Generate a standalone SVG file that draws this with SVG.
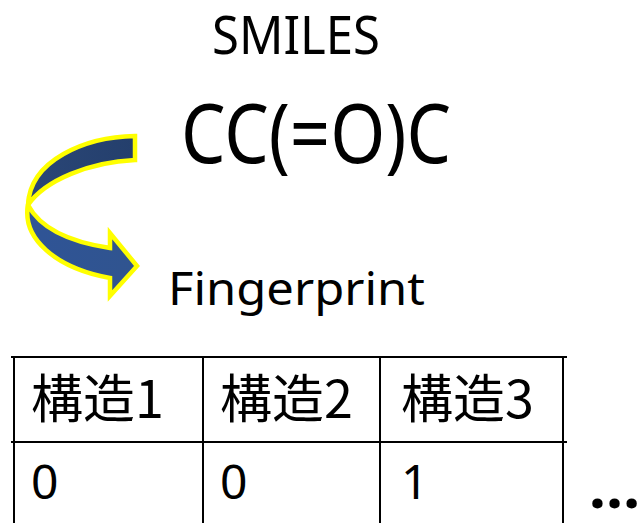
<svg xmlns="http://www.w3.org/2000/svg" width="640" height="523" viewBox="0 0 640 523">
  <style>
    .lat { font-family: "Noto Sans", "Liberation Sans", sans-serif; fill: #000; }
    .cjk { font-family: "Noto Sans CJK JP", "Noto Sans", sans-serif; fill: #000; font-size: 52px; }
    .num { font-family: "Noto Sans", "Liberation Sans", sans-serif; fill: #000; font-size: 48px; }
    .grid { stroke: #000; stroke-width: 2; fill: none; }
    .band { stroke: #FFFF00; stroke-width: 4.5; stroke-linejoin: miter; }
  </style>
  <defs>
    <linearGradient id="gTop" x1="0" y1="0" x2="1" y2="0">
      <stop offset="0" stop-color="#2A4677"/>
      <stop offset="1" stop-color="#243F6C"/>
    </linearGradient>
    <linearGradient id="gBot" x1="0" y1="0" x2="1" y2="0">
      <stop offset="0" stop-color="#2F5496"/>
      <stop offset="1" stop-color="#30548F"/>
    </linearGradient>
  </defs>
  <rect width="640" height="523" fill="#fff"/>

  <g id="smiles-label">
    <text class="lat" x="212" y="54" font-size="52" textLength="168" lengthAdjust="spacingAndGlyphs">SMILES</text>
  </g>
  <g id="smiles-value">
    <text class="lat" x="181" y="163" font-size="82" textLength="270" lengthAdjust="spacingAndGlyphs">CC(=O)C</text>
  </g>
  <g id="fingerprint-label">
    <text class="lat" x="168" y="305" font-size="46" textLength="257" lengthAdjust="spacingAndGlyphs">Fingerprint</text>
  </g>

  <g id="curved-arrow">
    <path class="band" fill="url(#gTop)" d="M135,136 C85,137 30,160 28,205 C45,180 90,162 135,160 Z"/>
    <path class="band" fill="url(#gBot)" d="M28,205 C22,238 55,268 110,278 L110,296 L137,266 L110,233 L110,248 C70,242 40,228 28,205 Z"/>
  </g>

  <g id="connectors">
  </g>

  <g id="fingerprint-table">
    <line class="grid" x1="11" y1="357" x2="567" y2="357"/>
    <line class="grid" x1="11" y1="442" x2="567" y2="442"/>
    <line class="grid" x1="14" y1="356" x2="14" y2="523"/>
    <line class="grid" x1="203" y1="356" x2="203" y2="523"/>
    <line class="grid" x1="380" y1="356" x2="380" y2="523"/>
    <line class="grid" x1="563" y1="356" x2="563" y2="523"/>
    <g id="cell-h1"><text class="cjk" x="31" y="418">構造1</text></g>
    <g id="cell-h2"><text class="cjk" x="220" y="418">構造2</text></g>
    <g id="cell-h3"><text class="cjk" x="401" y="418">構造3</text></g>
    <g id="cell-v1"><text class="num" x="31" y="499">0</text></g>
    <g id="cell-v2"><text class="num" x="220" y="499">0</text></g>
    <g id="cell-v3"><text class="num" x="401" y="499">1</text></g>
  </g>
  <g id="ellipsis">
    <text class="lat" x="589" y="508" font-size="60" font-weight="bold">…</text>
  </g>
</svg>
